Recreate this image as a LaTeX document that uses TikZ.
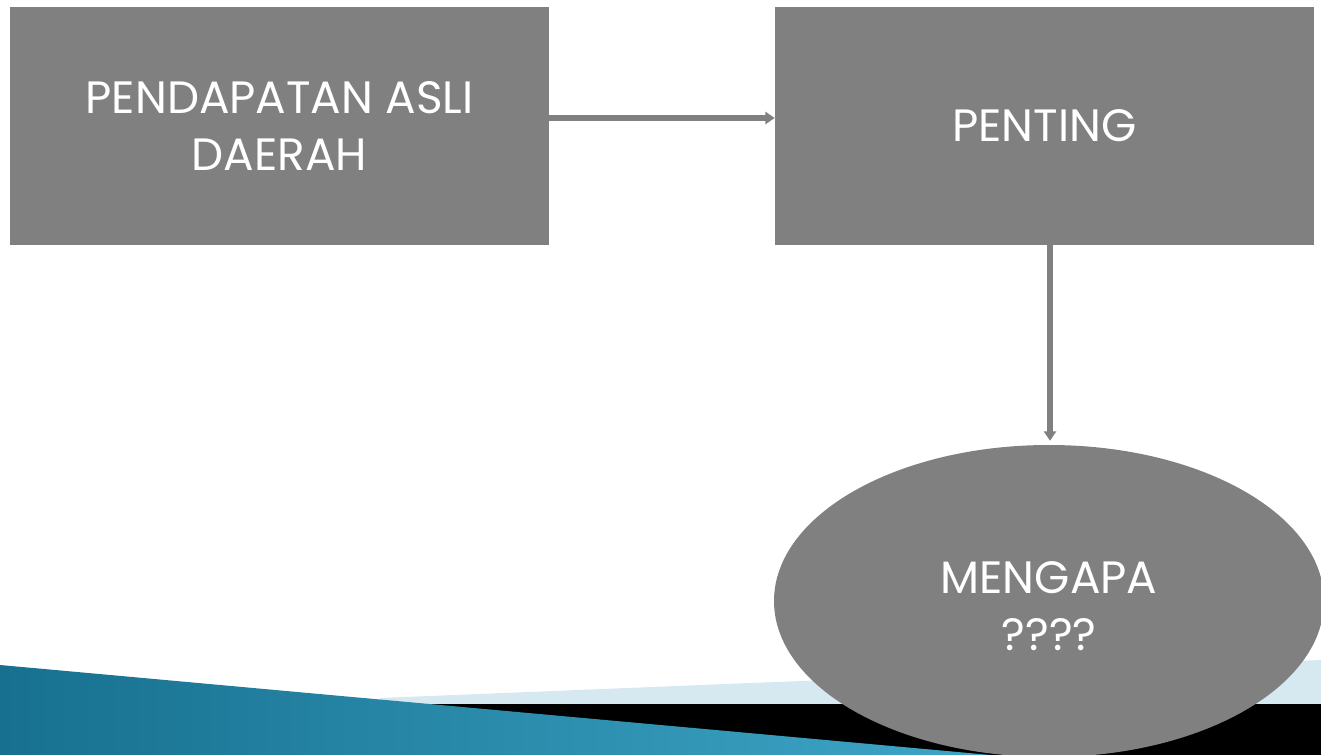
\documentclass[tikz,border=0pt]{standalone}
\usepackage{fontspec}
\setmainfont{Poppins}
\usetikzlibrary{shapes.geometric,arrows.meta}
\definecolor{boxgray}{HTML}{808080}
\definecolor{lightband}{HTML}{D6E8F0}
\definecolor{tealdark}{HTML}{17708F}
\definecolor{teallight}{HTML}{4BB8DA}
\tikzset{
  box/.style={fill=boxgray, draw=none, minimum width=539*0.75pt, minimum height=238*0.75pt, inner sep=0pt,
    text=white, align=center, font=\fontsize{34}{43}\selectfont},
  oval/.style={ellipse, fill=boxgray, draw=none, minimum width=550*0.75pt, minimum height=312*0.75pt, inner sep=0pt,
    text=white, align=center, font=\fontsize{34}{43}\selectfont},
  conn/.style={draw=boxgray, line width=5.5*0.75pt, -{Triangle[length=7pt,width=9pt]}},
}
\begin{document}
\begin{tikzpicture}[x=0.75pt,y=-0.75pt]
\useasboundingbox (0,0) rectangle (1321,755);
\begin{scope}
\clip (0,0) rectangle (1321,755);
% bottom decorative bands
\fill[lightband] (380,698) -- (1321,660) -- (1321,760) -- (380,760) -- cycle;
\fill[black] (380,704) rectangle (1321,760);
\shade[left color=tealdark, right color=teallight] (0,665) -- (1321,785) -- (1321,760) -- (0,760) -- cycle;
% nodes
\node[box] (pad) at (279.5,126) {PENDAPATAN ASLI\\DAERAH};
\node[box] (pen) at (1044.5,126) {PENTING};
\node[oval] (men) at (1049,601) {\raisebox{-7pt}[\height][\depth]{\begin{tabular}{@{}c@{}}MENGAPA\\????\end{tabular}}};
\end{scope}
\draw[conn] ([yshift=6pt]pad.east) -- ([yshift=6pt]pen.west);
\draw[conn, shorten >=3pt] (pen.south -| 1050,0) -- (men.north -| 1050,0);
\end{tikzpicture}
\end{document}
